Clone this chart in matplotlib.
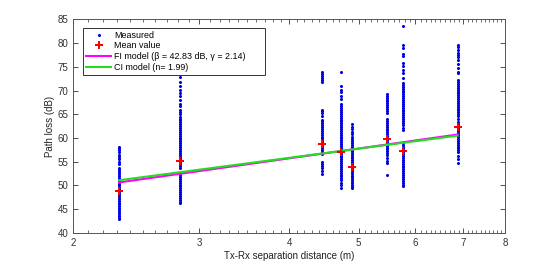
import matplotlib
matplotlib.use("Agg")
import matplotlib.pyplot as plt
import numpy as np
from matplotlib.ticker import FixedLocator, NullFormatter

plt.rcParams['font.family'] = ['Liberation Sans', 'DejaVu Sans']

# Tx-Rx distances (m)
distances = [2.318, 2.816, 4.45, 4.72, 4.89, 5.47, 5.77, 6.87]

# Measured path loss (dB) per distance
meas_d1 = [58.2, 57.8, 57.4, 57.0, 56.4, 56.0, 55.6, 55.0, 54.6, 53.6, 53.2, 52.8, 52.4, 52.0,
           51.6, 51.2, 50.8, 50.4, 50.0, 49.6, 49.2, 48.8, 48.4, 48.0, 47.6, 47.2, 46.8, 46.4,
           46.0, 45.6, 45.2, 44.8, 44.4, 44.0, 43.6, 43.2, 42.9]
meas_d2 = [72.8, 71.8, 71.0, 70.2, 69.5, 68.8, 68.0, 67.2, 66.7, 66.0, 65.4, 65.0, 64.5, 64.1,
           63.7, 63.3, 62.9, 62.5, 62.1, 61.7, 61.3, 60.9, 60.5, 60.1, 59.7, 59.3, 58.9, 58.5,
           58.1, 57.7, 57.3, 56.9, 56.5, 56.1, 55.7, 55.3, 54.9, 54.5, 54.1, 53.7, 52.2, 51.8,
           51.4, 51.0, 50.6, 50.2, 49.8, 49.4, 49.0, 48.6, 48.2, 47.8, 47.4, 47.0, 46.6, 46.2]
meas_d3 = [73.9, 73.5, 73.1, 72.7, 72.3, 71.7, 66.0, 65.6, 65.2, 64.6, 63.9, 63.5, 63.1, 62.7,
           62.3, 61.9, 61.5, 61.1, 60.7, 60.3, 59.9, 59.5, 59.1, 58.7, 58.3, 57.9, 57.5, 57.1,
           56.7, 55.0, 54.6, 54.2, 53.6, 53.0, 52.4]
meas_d4 = [74.0, 71.0, 70.2, 69.6, 68.8, 68.2, 67.1, 66.7, 66.3, 65.9, 65.5, 65.1, 64.7, 64.3,
           63.9, 63.5, 63.1, 62.7, 62.3, 61.9, 61.5, 61.1, 60.7, 60.3, 59.9, 59.5, 59.1, 58.7,
           58.3, 57.9, 57.5, 57.1, 56.7, 56.3, 55.9, 55.5, 55.1, 54.7, 54.3, 53.9, 53.5, 53.1,
           52.7, 52.3, 51.9, 51.5, 51.1, 50.5, 50.0, 49.4]
meas_d5 = [62.9, 62.3, 61.8, 61.2, 60.8, 60.2, 59.7, 59.3, 58.9, 58.5, 58.1, 57.7, 57.3, 56.9,
           56.5, 56.1, 55.7, 55.3, 54.9, 54.5, 54.1, 53.7, 53.3, 52.9, 52.5, 52.1, 51.7, 51.3,
           50.9, 50.5, 50.1, 49.7, 49.4]
meas_d6 = [69.3, 68.9, 68.5, 68.1, 67.7, 67.3, 66.9, 66.5, 66.1, 65.7, 65.2, 64.0, 63.6, 63.2,
           62.8, 62.4, 62.0, 61.6, 61.2, 60.8, 60.4, 60.0, 59.6, 59.2, 58.8, 58.4, 58.0, 57.6,
           57.2, 56.8, 56.4, 55.8, 55.2, 54.7, 52.2]
meas_d7 = [83.6, 79.6, 79.0, 77.8, 77.2, 75.8, 75.2, 74.4, 73.6, 72.6, 71.6, 71.2, 70.8, 70.4,
           70.0, 69.6, 69.2, 68.8, 68.4, 68.0, 67.6, 67.2, 66.8, 66.4, 66.0, 65.6, 65.2, 64.8,
           64.4, 64.0, 63.6, 63.2, 62.8, 62.2, 61.6, 59.0, 58.6, 58.2, 57.8, 57.4, 57.0, 56.6,
           56.2, 55.8, 55.4, 55.0, 54.6, 54.2, 53.8, 53.4, 53.0, 52.6, 52.2, 51.8, 51.4, 51.0,
           50.6, 50.2, 49.9]
meas_d8 = [79.5, 79.1, 78.6, 78.0, 77.5, 77.0, 76.4, 75.6, 74.8, 74.0, 73.6, 72.2, 71.8, 71.4,
           71.0, 70.6, 70.2, 69.8, 69.4, 69.0, 68.6, 68.2, 67.8, 67.4, 67.0, 66.6, 66.2, 65.8,
           65.4, 65.0, 64.6, 64.0, 63.4, 63.0, 62.6, 62.2, 61.8, 61.4, 61.0, 60.6, 60.2, 59.8,
           59.4, 59.0, 58.6, 58.2, 57.8, 57.4, 57.0, 56.2, 55.5, 54.8]
measured = [meas_d1, meas_d2, meas_d3, meas_d4, meas_d5, meas_d6, meas_d7, meas_d8]

# Mean values (dB)
mean_values = [48.8, 55.1, 58.7, 57.1, 53.9, 59.7, 57.3, 62.3]

# Model lines (endpoints)
model_d = [2.318, 6.87]
fi_model = [50.64, 60.74]
ci_model = [51.10, 60.50]

x_ticks = [2, 3, 4, 5, 6, 7, 8]
y_ticks = [40, 45, 50, 55, 60, 65, 70, 75, 80, 85]

fig = plt.figure(figsize=(5.58, 2.62), dpi=100)
ax = fig.add_axes([0.131, 0.111, 0.774, 0.815])

first = True
for d, vals in zip(distances, measured):
    ax.plot([d] * len(vals), vals, linestyle='none', marker='.', color='#0000e0',
            markersize=2.4, label='Measured' if first else None, zorder=2)
    first = False

ax.plot(distances, mean_values, linestyle='none', marker='P', color='red',
        markersize=5.5, markeredgewidth=0, label='Mean value', zorder=4)
ax.plot(model_d, fi_model, color='#ff00ff', linewidth=1.5,
        label='FI model (β = 42.83 dB, γ = 2.14)', zorder=3)
ax.plot(model_d, ci_model, color='#22dd22', linewidth=1.5,
        label='CI model (n= 1.99)', zorder=3)

ax.set_xscale('log')
ax.set_xlim(2, 8)
ax.set_ylim(40, 85)
ax.xaxis.set_major_locator(FixedLocator(x_ticks))
ax.set_xticklabels([str(t) for t in x_ticks])
minor = [round(v, 1) for v in np.arange(2.1, 8.0, 0.1) if abs(v - round(v)) > 1e-6]
ax.xaxis.set_minor_locator(FixedLocator(minor))
ax.xaxis.set_minor_formatter(NullFormatter())
ax.set_yticks(y_ticks)

ax.tick_params(which='both', direction='in', top=True, right=True,
               labelsize=7, colors='#333333')
ax.tick_params(which='major', length=3.5, width=0.6)
ax.tick_params(which='minor', length=2, width=0.5)
for s in ax.spines.values():
    s.set_color('#555555')
    s.set_linewidth(0.7)

ax.set_xlabel('Tx-Rx separation distance (m)', fontsize=7, color='#222222', labelpad=2)
ax.set_ylabel('Path loss (dB)', fontsize=7, color='#222222', labelpad=2)

leg = ax.legend(loc='upper left', fontsize=6.4, frameon=True, fancybox=False,
                edgecolor='#333333', framealpha=1, borderpad=0.3, labelspacing=0.2,
                handlelength=2.9, handletextpad=0.3, borderaxespad=0.0,
                mode='expand',
                bbox_to_anchor=(83 / 558, 1 - 28 / 262, (265 - 83) / 558, 0.0),
                bbox_transform=fig.transFigure)
leg.get_frame().set_linewidth(0.7)

fig.savefig('out.png', dpi=100)
